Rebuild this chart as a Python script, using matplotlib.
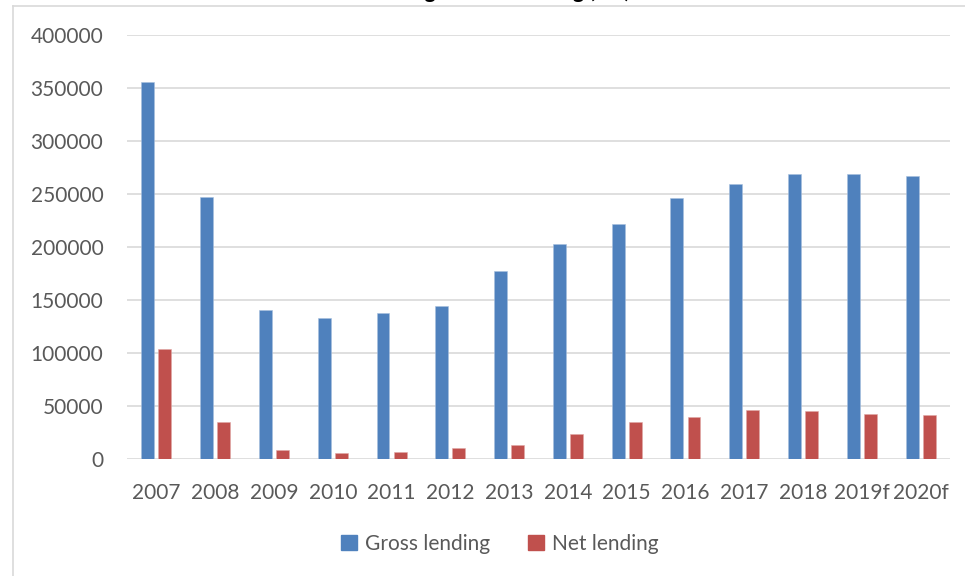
import numpy as np
import matplotlib
matplotlib.use("Agg")
import matplotlib.pyplot as plt
from matplotlib.patches import Patch
from matplotlib.lines import Line2D

years = ["2007", "2008", "2009", "2010", "2011", "2012", "2013",
         "2014", "2015", "2016", "2017", "2018", "2019f", "2020f"]
gross = [356000, 247500, 140600, 133300, 137700, 144000, 177400,
         203100, 221400, 245900, 259700, 268900, 268600, 267300]
net = [103500, 34900, 8500, 6000, 6600, 10100, 13200,
       23600, 34900, 39900, 46200, 45000, 42400, 41500]
yticks = [0, 50000, 100000, 150000, 200000, 250000, 300000, 350000, 400000]

BLUE = "#4F81BD"
RED = "#C0504D"
GRID = "#D9D9D9"
TEXT = "#595959"

plt.rcParams["font.family"] = ["Lato", "DejaVu Sans"]

fig = plt.figure(figsize=(9.65, 5.76), dpi=100)
ax = fig.add_axes([127 / 965, 1 - 459 / 576, (950 - 127) / 965, (459 - 35) / 576])

x = np.arange(len(years))
w = 0.22
ax.bar(x - 0.145, gross, width=w, color=BLUE, edgecolor="#A7BFDE", linewidth=0.4, zorder=3)
ax.bar(x + 0.145, net, width=w, color=RED, edgecolor="#E0A8A6", linewidth=0.4, zorder=3)

ax.set_xlim(-0.5, len(years) - 0.5)
ax.set_ylim(0, 400000)
ax.set_yticks(yticks)
ax.set_yticklabels([str(v) for v in yticks])
ax.set_xticks(x)
ax.set_xticklabels(years)
ax.grid(axis="y", color=GRID, linewidth=1.2, zorder=0)
ax.set_axisbelow(True)
for s in ax.spines.values():
    s.set_visible(False)
ax.tick_params(axis="both", length=0, colors=TEXT, labelsize=15)
ax.tick_params(axis="y", pad=17)
ax.tick_params(axis="x", pad=17)

# chart frame (partly outside the picture)
fig.add_artist(Line2D([13 / 965, 1.0], [1 - 6 / 576, 1 - 6 / 576], color=GRID, lw=1.2))
fig.add_artist(Line2D([13 / 965, 13 / 965], [0, 1 - 6 / 576], color=GRID, lw=1.2))

# title, clipped at the top edge as in the source
fig.text(470 / 965, 1 + 2 / 576, "Gross lending and net lending (£m)", ha="center",
         va="baseline", fontsize=15, fontweight="bold", color="black")

handles = [Patch(color=BLUE, label="Gross lending"), Patch(color=RED, label="Net lending")]
fig.legend(handles=handles, loc="center", bbox_to_anchor=(500 / 965, 1 - 544 / 576),
           ncol=2, frameon=False, fontsize=15, handlelength=0.75, handleheight=0.75,
           handletextpad=0.4, columnspacing=1.8, labelcolor=TEXT)

fig.savefig("out.png", dpi=100)
